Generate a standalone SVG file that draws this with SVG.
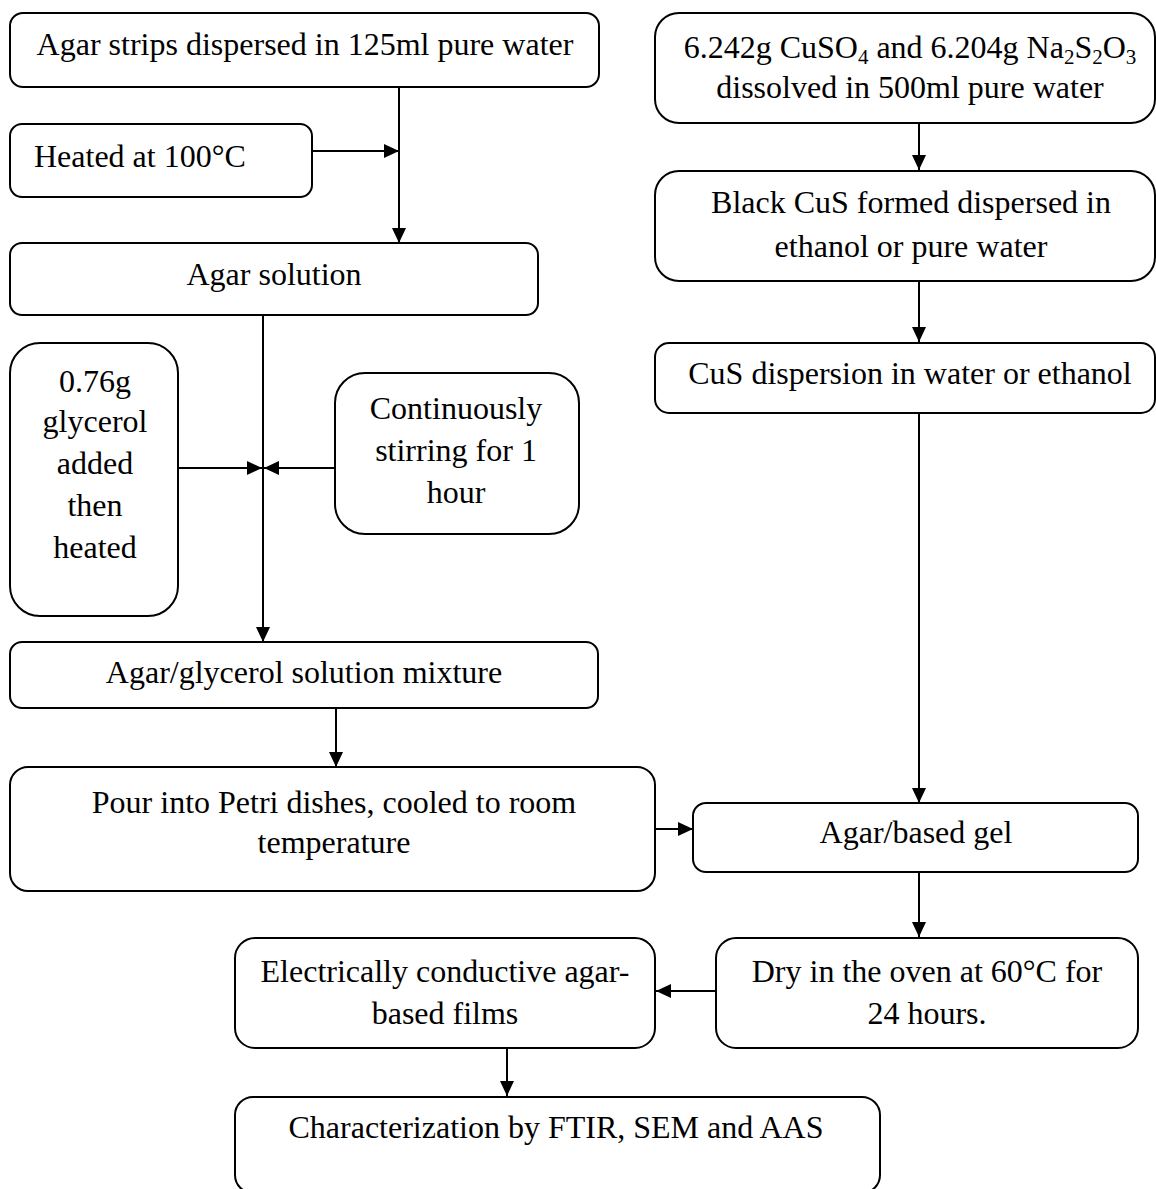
<svg xmlns="http://www.w3.org/2000/svg" width="1156" height="1189" viewBox="0 0 1156 1189">
<style>
.box{fill:#fff;stroke:#000;stroke-width:2}
.t{font-family:"Liberation Serif","Times New Roman",serif;font-size:32px;fill:#000}
.m{text-anchor:middle}
.c{stroke:#000;stroke-width:2;fill:none}
.s{font-size:21px}
</style>
<defs>
<marker id="ah" markerUnits="userSpaceOnUse" markerWidth="16" markerHeight="14" refX="15" refY="7" orient="auto">
<path d="M0,0 L15,7 L0,14 Z" fill="#000"/>
</marker>
</defs>
<rect width="1156" height="1189" fill="#fff"/>
<g id="connectors">
<line class="c" x1="399" y1="87" x2="399" y2="243" marker-end="url(#ah)"/>
<line class="c" x1="312" y1="151" x2="399" y2="151" marker-end="url(#ah)"/>
<line class="c" x1="263" y1="315" x2="263" y2="642" marker-end="url(#ah)"/>
<line class="c" x1="178" y1="468" x2="262" y2="468" marker-end="url(#ah)"/>
<line class="c" x1="335" y1="468" x2="264" y2="468" marker-end="url(#ah)"/>
<line class="c" x1="336" y1="708" x2="336" y2="767" marker-end="url(#ah)"/>
<line class="c" x1="655" y1="829" x2="693" y2="829" marker-end="url(#ah)"/>
<line class="c" x1="919" y1="123" x2="919" y2="170" marker-end="url(#ah)"/>
<line class="c" x1="919" y1="281" x2="919" y2="342" marker-end="url(#ah)"/>
<line class="c" x1="919" y1="413" x2="919" y2="803" marker-end="url(#ah)"/>
<line class="c" x1="919" y1="872" x2="919" y2="937" marker-end="url(#ah)"/>
<line class="c" x1="716" y1="991" x2="656" y2="991" marker-end="url(#ah)"/>
<line class="c" x1="507" y1="1048" x2="507" y2="1096" marker-end="url(#ah)"/>
</g>
<g id="n1"><rect class="box" x="10" y="13" width="589" height="74" rx="13"/>
<text class="t m" x="305" y="55">Agar strips dispersed in 125ml pure water</text></g>
<g id="n2"><rect class="box" x="10" y="124" width="302" height="73" rx="12"/>
<text class="t" x="34" y="167">Heated at 100°C</text></g>
<g id="n3"><rect class="box" x="10" y="243" width="528" height="72" rx="12"/>
<text class="t m" x="274" y="285">Agar solution</text></g>
<g id="n4"><rect class="box" x="10" y="343" width="168" height="273" rx="30"/>
<text class="t m" x="95" y="392">0.76g</text>
<text class="t m" x="95" y="432">glycerol</text>
<text class="t m" x="95" y="474">added</text>
<text class="t m" x="95" y="516">then</text>
<text class="t m" x="95" y="558">heated</text></g>
<g id="n5"><rect class="box" x="335" y="373" width="244" height="161" rx="30"/>
<text class="t m" x="456" y="419">Continuously</text>
<text class="t m" x="456" y="461">stirring for 1</text>
<text class="t m" x="456" y="503">hour</text></g>
<g id="n6"><rect class="box" x="10" y="642" width="588" height="66" rx="12"/>
<text class="t m" x="304" y="683">Agar/glycerol solution mixture</text></g>
<g id="n7"><rect class="box" x="10" y="767" width="645" height="124" rx="18"/>
<text class="t m" x="334" y="813">Pour into Petri dishes, cooled to room</text>
<text class="t m" x="334" y="853">temperature</text></g>
<g id="n8"><rect class="box" x="655" y="13" width="500" height="110" rx="24"/>
<text class="t m" x="910" y="58">6.242g CuSO<tspan class="s" dy="6">4</tspan><tspan dy="-6"> and 6.204g Na</tspan><tspan class="s" dy="6">2</tspan><tspan dy="-6">S</tspan><tspan class="s" dy="6">2</tspan><tspan dy="-6">O</tspan><tspan class="s" dy="6">3</tspan></text>
<text class="t m" x="910" y="98">dissolved in 500ml pure water</text></g>
<g id="n9"><rect class="box" x="655" y="171" width="500" height="110" rx="24"/>
<text class="t m" x="911" y="213">Black CuS formed dispersed in</text>
<text class="t m" x="911" y="257">ethanol or pure water</text></g>
<g id="n10"><rect class="box" x="655" y="343" width="500" height="70" rx="14"/>
<text class="t m" x="910" y="384">CuS dispersion in water or ethanol</text></g>
<g id="n11"><rect class="box" x="693" y="803" width="445" height="69" rx="13"/>
<text class="t m" x="916" y="843">Agar/based gel</text></g>
<g id="n12"><rect class="box" x="716" y="938" width="422" height="110" rx="20"/>
<text class="t m" x="927" y="982">Dry in the oven at 60°C for</text>
<text class="t m" x="927" y="1024">24 hours.</text></g>
<g id="n13"><rect class="box" x="235" y="938" width="420" height="110" rx="20"/>
<text class="t m" x="445" y="982">Electrically conductive agar-</text>
<text class="t m" x="445" y="1024">based films</text></g>
<g id="n14"><rect class="box" x="235" y="1097" width="645" height="96" rx="18"/>
<text class="t m" x="556" y="1138">Characterization by FTIR, SEM and AAS</text></g>
</svg>
